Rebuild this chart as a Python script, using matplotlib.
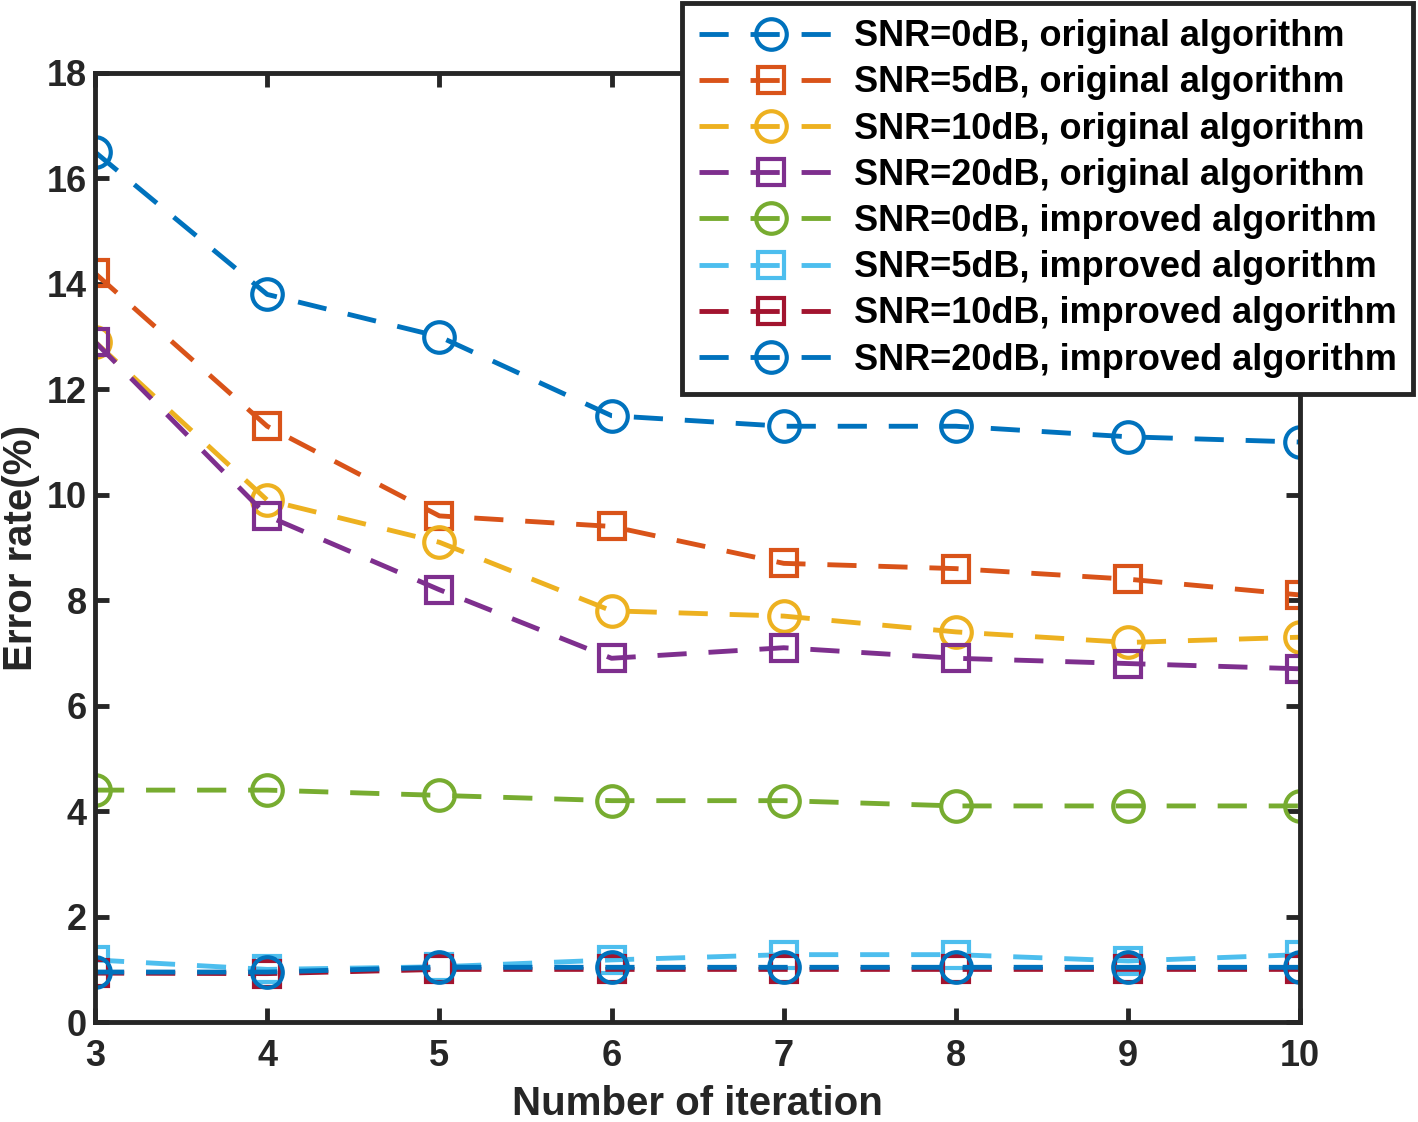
import matplotlib.pyplot as plt

iterations = [3, 4, 5, 6, 7, 8, 9, 10]

orig_0db = [16.5, 13.8, 13.0, 11.5, 11.3, 11.3, 11.1, 11.0]
orig_5db = [14.2, 11.3, 9.6, 9.4, 8.7, 8.6, 8.4, 8.1]
orig_10db = [12.9, 9.9, 9.1, 7.8, 7.7, 7.4, 7.2, 7.3]
orig_20db = [12.9, 9.6, 8.2, 6.9, 7.1, 6.9, 6.8, 6.7]
impr_0db = [4.4, 4.4, 4.3, 4.2, 4.2, 4.1, 4.1, 4.1]
impr_5db = [1.18, 1.0, 1.05, 1.18, 1.28, 1.28, 1.16, 1.28]
impr_10db = [0.93, 0.92, 1.0, 1.0, 1.0, 1.0, 1.0, 1.0]
impr_20db = [0.95, 0.95, 1.04, 1.04, 1.04, 1.04, 1.04, 1.04]

labels = [
    "SNR=0dB, original algorithm",
    "SNR=5dB, original algorithm",
    "SNR=10dB, original algorithm",
    "SNR=20dB, original algorithm",
    "SNR=0dB, improved algorithm",
    "SNR=5dB, improved algorithm",
    "SNR=10dB, improved algorithm",
    "SNR=20dB, improved algorithm",
]

series = [orig_0db, orig_5db, orig_10db, orig_20db,
          impr_0db, impr_5db, impr_10db, impr_20db]
colors = ["#0072BD", "#D95319", "#EDB120", "#7E2F8E",
          "#77AC30", "#4DBEEE", "#A2142F", "#0072BD"]
markers = ["o", "s", "o", "s", "o", "s", "s", "o"]

plt.rcParams["font.family"] = ["Liberation Sans", "DejaVu Sans"]
plt.rcParams["font.weight"] = "bold"

fig = plt.figure(figsize=(14.18, 11.22), dpi=100)
ax = fig.add_axes([0.067, 0.089, 0.850, 0.846])

for ys, c, m, lab in zip(series, colors, markers, labels):
    ms = 22 if m == "o" else 19
    ax.plot(iterations, ys, color=c, linestyle=(0, (6, 4.5)), linewidth=3.5,
            marker=m, markersize=ms, markerfacecolor="none",
            markeredgewidth=3, markeredgecolor=c, label=lab)

ax.set_xlim(3, 10)
ax.set_ylim(0, 18)
ax.set_xticks(range(3, 11))
ax.set_yticks(range(0, 19, 2))

for s in ax.spines.values():
    s.set_linewidth(3.5)
    s.set_color("#262626")

ax.tick_params(direction="in", length=10, width=3.5, top=True, right=True,
               labelsize=26, labelcolor="#262626", color="#262626")
ax.tick_params(axis="x", pad=12)
ax.tick_params(axis="y", pad=6)
for t in ax.get_xticklabels() + ax.get_yticklabels():
    t.set_fontweight("bold")

ax.set_xlabel("Number of iteration", fontsize=29, fontweight="bold",
              color="#262626", labelpad=8)
ax.set_ylabel("Error rate(%)", fontsize=29, fontweight="bold",
              color="#262626")
ax.yaxis.set_label_coords(-0.046, 0.5)

leg = ax.legend(loc="upper right", bbox_to_anchor=(1413 / 1418, 1 - 3 / 1122),
                bbox_transform=fig.transFigure,
                prop={"weight": "bold", "size": 26},
                frameon=True, fancybox=False, handlelength=4.0,
                handletextpad=0.3, labelspacing=0.31, borderpad=0.45,
                borderaxespad=0, framealpha=1)
leg.get_frame().set_edgecolor("#262626")
leg.get_frame().set_linewidth(3.5)

fig.savefig("out.png", dpi=100)
